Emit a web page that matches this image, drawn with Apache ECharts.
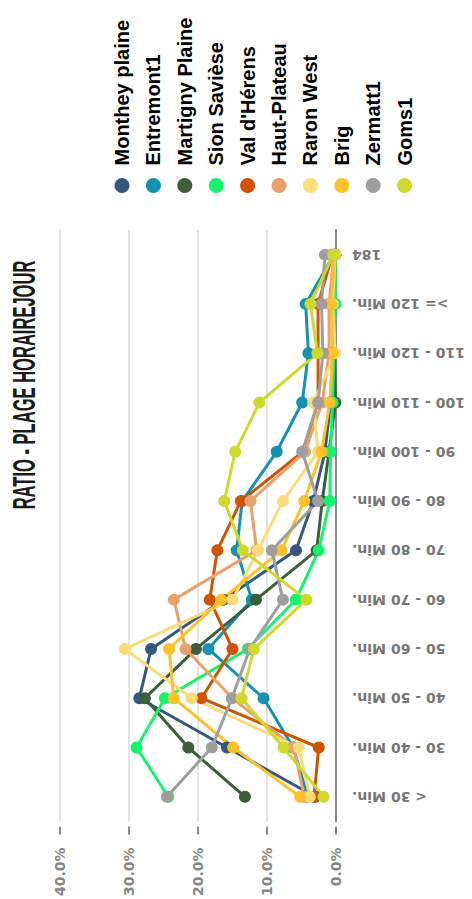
<!DOCTYPE html>
<html>
<head>
<meta charset="utf-8">
<script src="https://cdn.jsdelivr.net/npm/echarts@6/dist/echarts.min.js"></script>
<style>
html,body{margin:0;padding:0;background:#fff;overflow:hidden;width:472px;height:899px;}
#chart{position:absolute;left:0;top:0;width:899px;height:472px;transform-origin:0 0;transform:translate(0,899px) rotate(-90deg);}
</style>
</head>
<body>
<div id="chart"></div>
<script>
const categories = ["< 30 Min.", "30 - 40 Min.", "40 - 50 Min.", "50 - 60 Min.", "60 - 70 Min.", "70 - 80 Min.", "80 - 90 Min.", "90 - 100 Min.", "100 - 110 Min.", "110 - 120 Min.", ">= 120 Min.", "184"];
const seriesNames = ["Monthey plaine", "Entremont1", "Martigny Plaine", "Sion Savièse", "Val d'Hérens", "Haut-Plateau", "Raron West", "Brig", "Zermatt1", "Goms1"];
const montheyPlaine   = [3.0, 15.8, 28.5, 26.8, 16.3, 5.8, 3.3, 1.6, 0.8, 0.5, 0.5, 0.1];
const entremont1      = [4.1, 6.2, 10.5, 18.5, 12.2, 14.4, 13.6, 8.6, 4.9, 4.0, 4.4, 0.3];
const martignyPlaine  = [13.2, 21.4, 27.7, 20.3, 11.6, 2.8, 2.0, 1.0, 0.1, 0.2, 0.3, 0.1];
const sionSaviese     = [24.3, 28.9, 24.8, 12.8, 5.8, 2.5, 0.9, 0.8, 0.5, 0.3, 0.1, 0.1];
const valDHerens      = [3.2, 2.5, 19.5, 15.0, 18.3, 17.2, 13.8, 4.8, 2.6, 2.6, 2.6, 0.5];
const hautPlateau     = [4.6, 6.1, 15.0, 21.8, 23.5, 11.5, 12.4, 4.5, 2.0, 1.0, 1.0, 0.3];
const raronWest       = [3.8, 5.4, 20.9, 30.6, 15.0, 11.3, 7.7, 2.6, 3.3, 0.1, 0.5, 0.1];
const brig            = [5.2, 14.9, 23.5, 24.2, 16.6, 7.9, 4.6, 2.1, 0.9, 0.5, 0.7, 0.2];
const zermatt1        = [24.5, 18.0, 15.1, 12.5, 7.7, 9.3, 2.6, 4.9, 2.6, 1.9, 2.1, 1.6];
const goms1           = [1.8, 7.6, 13.7, 11.9, 4.3, 13.5, 16.2, 14.6, 11.1, 2.7, 3.7, 0.4];
const valueTicks = [0, 10, 20, 30, 40];
const colors = ["#34587f", "#1591b1", "#3b5e3b", "#14f56c", "#cf5300", "#e9a06a", "#fcdc7a", "#fdc12a", "#9e9e9e", "#cdd92d"];
const allData = [montheyPlaine, entremont1, martignyPlaine, sionSaviese, valDHerens, hautPlateau, raronWest, brig, zermatt1, goms1];

const chart = echarts.init(document.getElementById('chart'), null, {renderer: 'svg', width: 899, height: 472});
chart.setOption({
  animation: false,
  backgroundColor: '#ffffff',
  color: colors,
  graphic: [{
    type: 'text', x: 514, y: 24, scaleX: 0.534,
    style: {text: 'RATIO - PLAGE HORAIREJOUR', fontFamily: '"Liberation Sans", Arial, sans-serif', fontWeight: 'bold', fontSize: 31, fill: '#1a1a1a', align: 'center', verticalAlign: 'middle'}
  }],
  legend: {
    orient: 'vertical', left: 701, top: 107,
    icon: 'circle', itemWidth: 30, itemHeight: 15, itemGap: 11.4,
    data: seriesNames,
    textStyle: {fontFamily: '"Liberation Sans", Arial, sans-serif', fontWeight: 'bold', fontSize: 20, color: '#000'}
  },
  grid: {left: 77, top: 60, width: 592, height: 276, containLabel: false},
  xAxis: {
    type: 'category', data: categories, boundaryGap: true,
    axisLine: {lineStyle: {color: '#8a8a8a', width: 2}},
    axisTick: {alignWithLabel: true, length: 5, lineStyle: {color: '#8a8a8a', width: 1.5}},
    axisLabel: {rotate: 90, margin: 16, interval: 0, fontFamily: '"DejaVu Sans", sans-serif', fontWeight: 'bold', fontSize: 14, color: '#767676'}
  },
  yAxis: {
    type: 'value', min: valueTicks[0], max: valueTicks[valueTicks.length - 1], interval: 10, offset: 5,
    axisLine: {show: false},
    axisTick: {show: true, length: 8, lineStyle: {color: '#8a8a8a', width: 2}},
    splitLine: {lineStyle: {color: '#e4e4e4', width: 2}},
    axisLabel: {margin: 21, formatter: v => v.toFixed(1) + '%', fontFamily: '"DejaVu Sans", sans-serif', fontWeight: 'bold', fontSize: 14, color: '#858585'}
  },
  series: seriesNames.map((n, i) => ({
    name: n, type: 'line', data: allData[i],
    symbol: 'circle', symbolSize: 12, showSymbol: true,
    lineStyle: {width: 3}, itemStyle: {color: colors[i]}
  }))
});
</script>
</body>
</html>
